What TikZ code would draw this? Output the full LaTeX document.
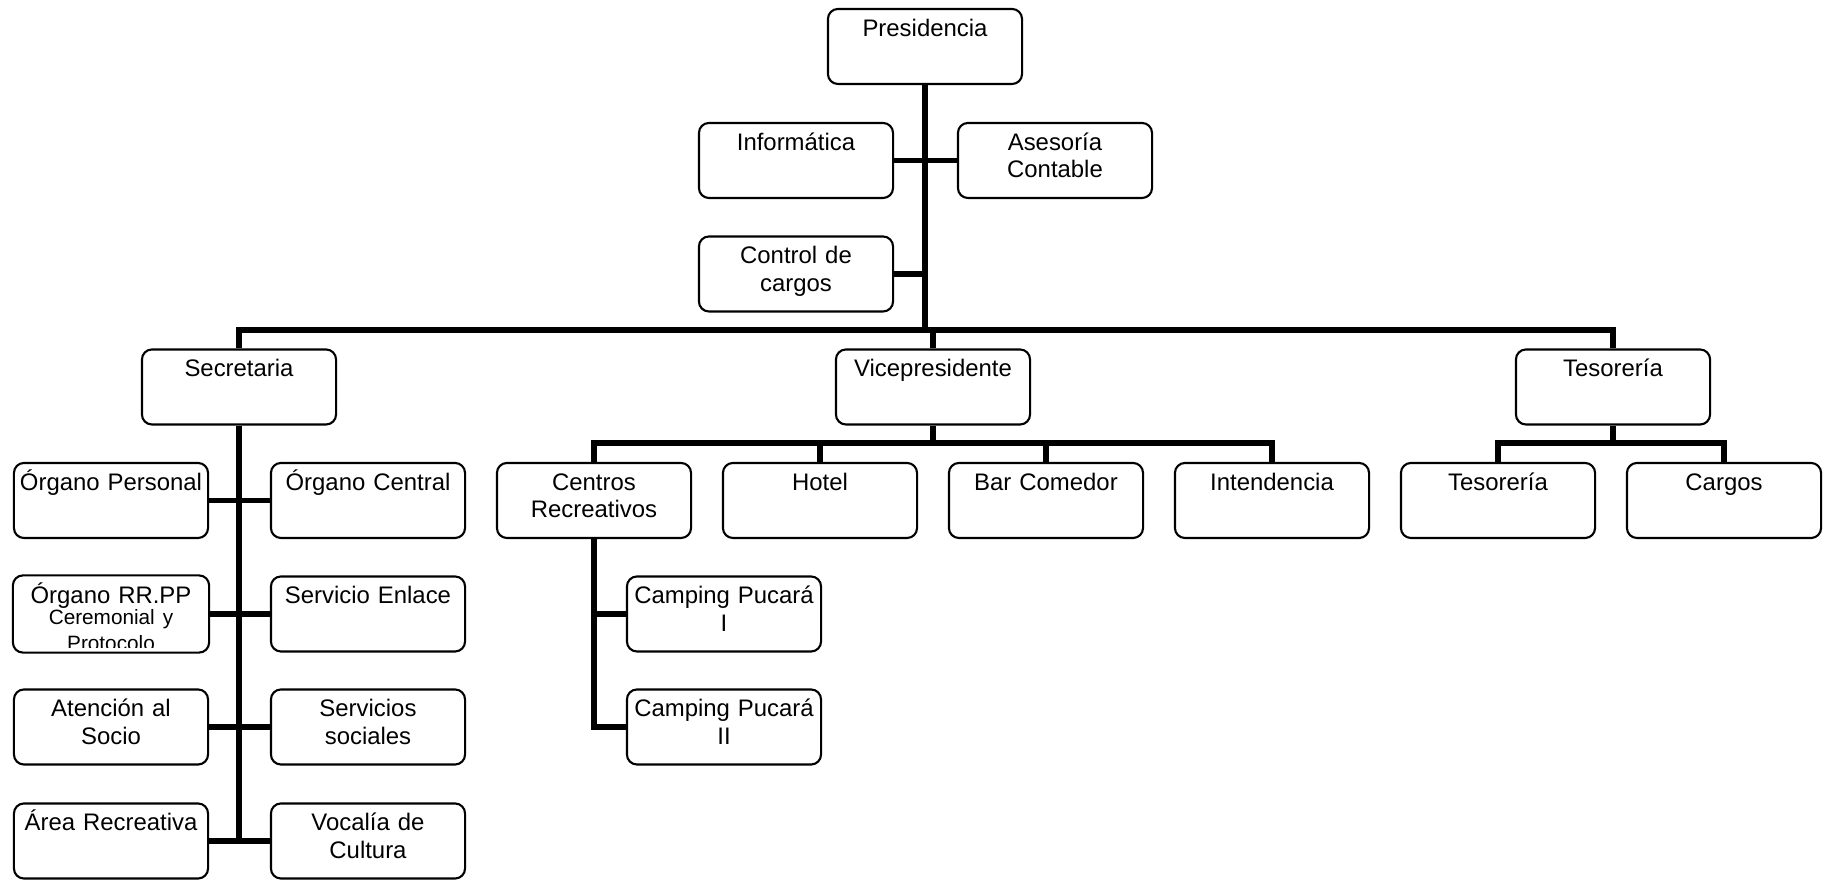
\documentclass[tikz,border=0pt]{standalone}
\usepackage{fontspec}
\setmainfont{Liberation Sans}
\usepackage{tikz}

\begin{document}
\begin{tikzpicture}[x=0.01cm, y=-0.01cm,
        box/.style={draw, line width=0.6pt, rounded corners=0.1cm, inner sep=0pt,
            text width=1.94cm, align=center, minimum height=0.75cm,
            text height=0.275cm, text depth=0.475cm,
            font=\fontsize{6.8pt}{7.8pt}\selectfont},
        link/.style={line width=0.058cm}]
        \useasboundingbox (0,0) rectangle (1827,883);
        \node[box] (pres)  at (925,46.5)  {Presidencia};
        \node[box] (info)  at (796,160.5) {Informática};
        \node[box] (ases)  at (1055,160.5) {Asesoría\\Contable};
        \node[box] (ctrl)  at (796,274)   {Control de\\cargos};
        \node[box] (secr)  at (239,387)   {Secretaria};
        \node[box] (vice)  at (933,387)   {Vicepresidente};
        \node[box] (teso)  at (1613,387)  {Tesorería};
        \node[box] (orgp)  at (111,500.5) {Órgano Personal};
        \node[box] (orgc)  at (368,500.5) {Órgano Central};
        \begin{scope}
            \clip (13,576) rectangle (209,648);
            \node[box, draw=none] (rrpp) at (111,614) {Órgano RR.PP\\[-0.04cm]{\fontsize{5.9pt}{7pt}\selectfont Ceremonial y\\[-0.015cm]Protocolo}};
        \end{scope}
        \draw [line width=0.6pt, rounded corners=0.1cm] (rrpp.north west) rectangle (rrpp.south east);
        \node[box] (enla)  at (368,614)   {Servicio Enlace};
        \node[box] (aten)  at (111,727)   {Atención al\\Socio};
        \node[box] (socs)  at (368,727)   {Servicios\\sociales};
        \node[box] (area)  at (111,841)   {Área Recreativa};
        \node[box] (voca)  at (368,841)   {Vocalía de\\Cultura};
        \node[box] (cent)  at (594,500.5) {Centros\\Recreativos};
        \node[box] (hotel) at (820,500.5) {Hotel};
        \node[box] (bar)   at (1046,500.5) {Bar Comedor};
        \node[box] (inte)  at (1272,500.5) {Intendencia};
        \node[box] (tesb)  at (1498,500.5) {Tesorería};
        \node[box] (carg)  at (1724,500.5) {Cargos};
        \node[box] (campa) at (724,614)   {Camping Pucará\\I};
        \node[box] (campb) at (724,727)   {Camping Pucará\\II};
        \coordinate (bus)  at (925,330);
        \coordinate (vbus) at (933,443);
        \coordinate (tbus) at (1613,443);
        \draw [link] (pres.south) -- (bus);
        \draw [link] (info.east) -- (ases.west);
        \draw [link] (ctrl.east) -- (ctrl.east -| bus);
        \draw [link] (secr.north) |- (bus) -| (teso.north);
        \draw [link] (bus -| vice.north) -- (vice.north);
        \draw [link] (vice.south) -- (vbus);
        \draw [link] (cent.north) |- (vbus) -| (inte.north);
        \draw [link] (hotel.north) -- (hotel.north |- vbus);
        \draw [link] (bar.north) -- (bar.north |- vbus);
        \draw [link] (teso.south) -- (tbus);
        \draw [link] (tesb.north) |- (tbus) -| (carg.north);
        \draw [link] (secr.south) -- (secr.south |- area.east);
        \draw [link] (orgp.east) -- (orgc.west);
        \draw [link] (rrpp.east) -- (enla.west);
        \draw [link] (aten.east) -- (socs.west);
        \draw [link] (area.east) -- (voca.west);
        \draw [link] (cent.south) |- (campb.west);
        \draw [link] (cent.south |- campa.west) -- (campa.west);
    \end{tikzpicture}
\end{document}
